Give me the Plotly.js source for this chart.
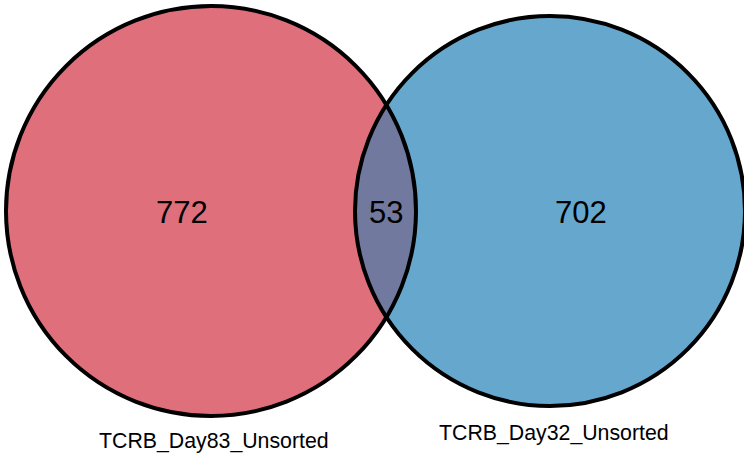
<!DOCTYPE html>
<html>
<head>
<meta charset="utf-8">
<script src="https://cdn.plot.ly/plotly-3.0.1.min.js"></script>
<style>html,body{margin:0;padding:0;background:#fff;}#chart{width:744px;height:454px;}</style>
</head>
<body>
<div id="chart"></div>
<script>
// Data
const setNames = ["TCRB_Day83_Unsorted", "TCRB_Day32_Unsorted"];
const onlyCounts = [772, 702];
const overlapCount = [53];
const setColors = ["#E06F7C", "#66A7CD"];
const overlapColor = "#72799E";

// Geometry (pixel space of the 744x454 canvas)
const circles = [
  {cx: 211, cy: 211, r: 205},
  {cx: 550, cy: 211, r: 195}
];
const countPos = [{x: 182, y: 212}, {x: 581, y: 212}];
const overlapPos = {x: 386, y: 212};
const labelPos = [{x: 214, y: 441}, {x: 554, y: 433}];

// lens polygon between the two circles
function lensPath(a, b) {
  const d = b.cx - a.cx;
  const xi = (d*d - b.r*b.r + a.r*a.r) / (2*d);
  const h = Math.sqrt(a.r*a.r - xi*xi);
  const angA = Math.atan2(h, xi);
  const angB = Math.atan2(h, xi - d);
  const pts = [];
  const n = 80;
  for (let i = 0; i <= n; i++) {
    const t = -angA + 2*angA*i/n;
    pts.push([a.cx + a.r*Math.cos(t), a.cy + a.r*Math.sin(t)]);
  }
  for (let i = 0; i <= n; i++) {
    const t = angB + (2*Math.PI - 2*angB)*i/n;
    pts.push([b.cx + b.r*Math.cos(t), b.cy + b.r*Math.sin(t)]);
  }
  return "M" + pts.map(p => p[0].toFixed(2) + "," + p[1].toFixed(2)).join("L") + "Z";
}

const shapes = [];
circles.forEach((c, i) => {
  shapes.push({type: "circle", xref: "x", yref: "y",
    x0: c.cx - c.r, x1: c.cx + c.r, y0: c.cy - c.r, y1: c.cy + c.r,
    fillcolor: setColors[i], line: {width: 0}, layer: "above"});
});
shapes.push({type: "path", xref: "x", yref: "y", path: lensPath(circles[0], circles[1]),
  fillcolor: overlapColor, line: {width: 0}, layer: "above"});
circles.forEach((c) => {
  shapes.push({type: "circle", xref: "x", yref: "y",
    x0: c.cx - c.r, x1: c.cx + c.r, y0: c.cy - c.r, y1: c.cy + c.r,
    fillcolor: "rgba(0,0,0,0)", line: {color: "#000", width: 4}, layer: "above"});
});

const annFont = {family: "Liberation Sans, Arial, sans-serif", color: "#000"};
const annotations = [];
onlyCounts.forEach((v, i) => {
  annotations.push({x: countPos[i].x, y: countPos[i].y, xref: "x", yref: "y",
    text: String(v), showarrow: false, font: Object.assign({size: 31}, annFont)});
});
annotations.push({x: overlapPos.x, y: overlapPos.y, xref: "x", yref: "y",
  text: String(overlapCount[0]), showarrow: false, font: Object.assign({size: 31}, annFont)});
setNames.forEach((s, i) => {
  annotations.push({x: labelPos[i].x, y: labelPos[i].y, xref: "x", yref: "y",
    text: s, showarrow: false, font: Object.assign({size: 21.3}, annFont)});
});

const layout = {
  width: 744, height: 454,
  margin: {l: 0, r: 0, t: 0, b: 0},
  paper_bgcolor: "#fff", plot_bgcolor: "#fff",
  xaxis: {range: [0, 744], visible: false, fixedrange: true},
  yaxis: {range: [454, 0], visible: false, fixedrange: true},
  shapes: shapes,
  annotations: annotations,
  showlegend: false
};

Plotly.newPlot("chart", [{x: [], y: [], type: "scatter", mode: "markers", hoverinfo: "skip"}], layout, {staticPlot: true, displayModeBar: false});
</script>
</body>
</html>
